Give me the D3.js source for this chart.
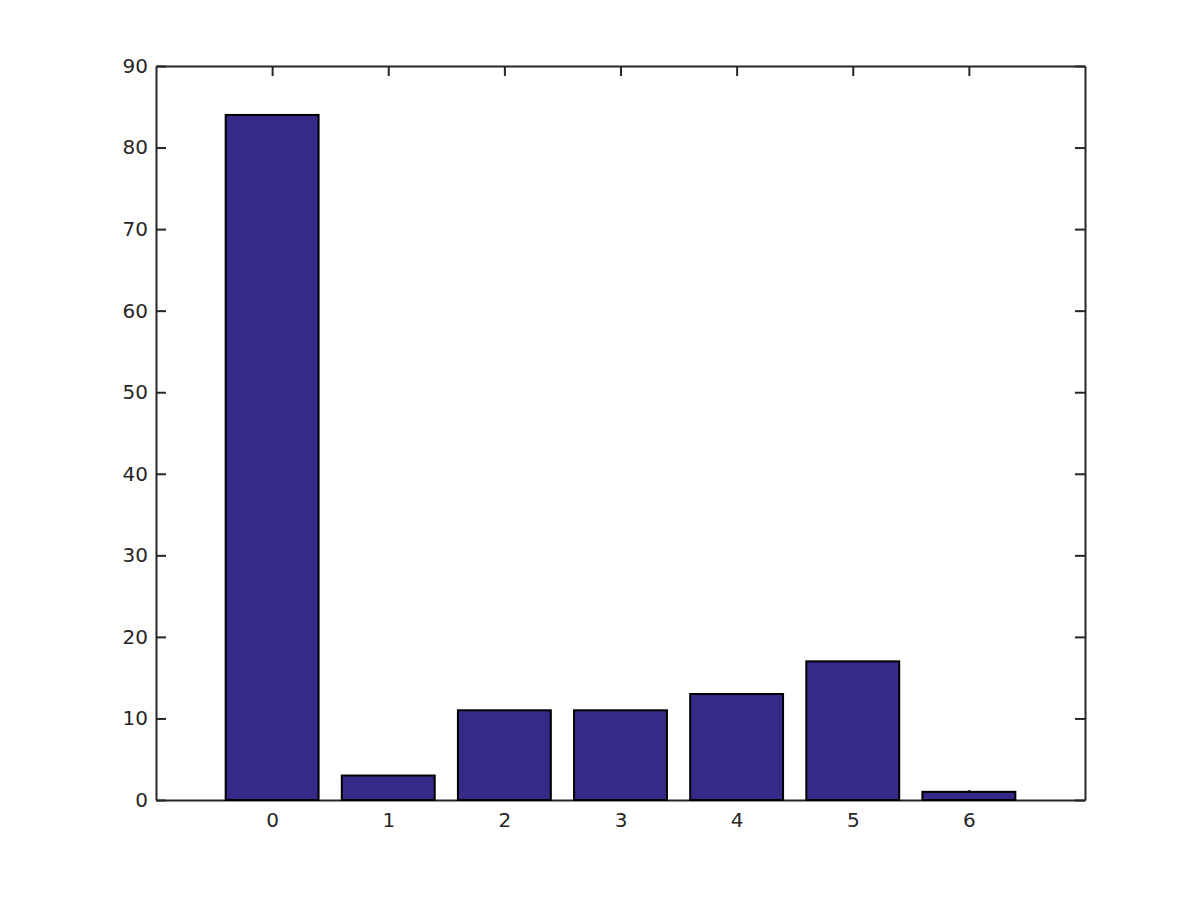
<!DOCTYPE html>
<html><head><meta charset="utf-8">
<script src="https://cdn.jsdelivr.net/npm/d3@7"></script>
<style>body{margin:0;background:#fff}svg{display:block}</style>
</head><body>
<svg id="c" width="1200" height="900"></svg>
<script>
const categories = ["0","1","2","3","4","5","6"];
const values = [84, 3, 11, 11, 13, 17, 1];
const yTicks = [0,10,20,30,40,50,60,70,80,90];

const L=156, R=1085, T=66, B=800;
const svg = d3.select("#c");
const x = d3.scaleLinear().domain([-1, 7]).range([L, R]);
const y = d3.scaleLinear().domain([0, 90]).range([B, T]);
const bw = 0.8;
const axisColor = "#262626";
const tl = 10;

const barsG = svg.append("g");

const gx = svg.append("g").attr("transform",`translate(0,${B})`)
  .call(d3.axisBottom(x).tickValues(d3.range(categories.length)).tickFormat(i=>categories[i]).tickSizeInner(-tl).tickSizeOuter(0).tickPadding(13));
const gxt = svg.append("g").attr("transform",`translate(0,${T})`)
  .call(d3.axisTop(x).tickValues(d3.range(categories.length)).tickFormat("").tickSizeInner(-tl).tickSizeOuter(0));
const gy = svg.append("g").attr("transform",`translate(${L},0)`)
  .call(d3.axisLeft(y).tickValues(yTicks).tickSizeInner(-tl).tickSizeOuter(0).tickPadding(8));
const gyr = svg.append("g").attr("transform",`translate(${R},0)`)
  .call(d3.axisRight(y).tickValues(yTicks).tickFormat("").tickSizeInner(-tl).tickSizeOuter(0));

[gx,gxt,gy,gyr].forEach(g=>{
  g.attr("font-size", 20).attr("font-family", "DejaVu Sans");
  g.selectAll(".domain").attr("stroke", axisColor).attr("stroke-width", 2);
  g.selectAll(".tick line").attr("stroke", axisColor).attr("stroke-width", 2);
  g.selectAll("text").attr("fill", axisColor);
});

barsG.selectAll("rect").data(values).join("rect")
  .attr("x", (d,i)=>x(i - bw/2))
  .attr("width", x(bw) - x(0))
  .attr("y", d=>y(d))
  .attr("height", d=>y(0)-y(d))
  .attr("fill", "#352a87")
  .attr("stroke", "#000")
  .attr("stroke-width", 2);
barsG.raise();
gx.select(".domain").raise();
</script>
</body></html>
